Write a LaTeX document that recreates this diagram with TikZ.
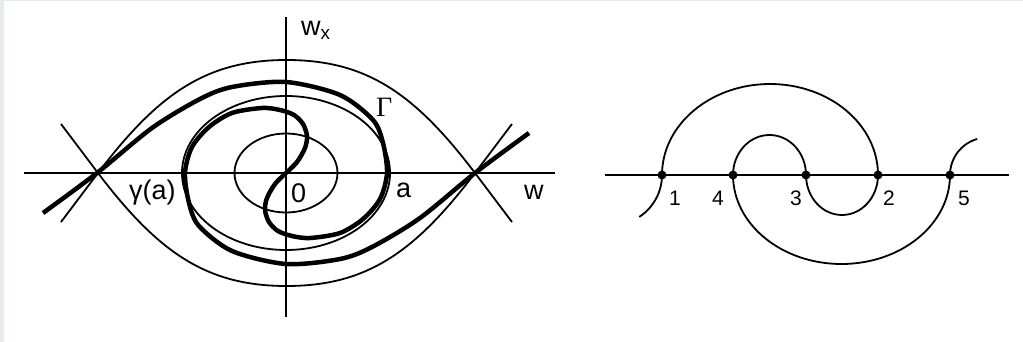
\documentclass[tikz,border=0pt]{standalone}
\usepackage{fontspec}
\setmainfont{Liberation Sans}
\newfontfamily\serifgreek{Liberation Serif}
\definecolor{framegray}{HTML}{E6EEEC}

\begin{document}
\begin{tikzpicture}[x=1pt, y=-1pt, line join=round,
    orbit/.style={line width=1.8pt},
    gammacurve/.style={line width=4.5pt},
    dot/.style={circle, fill, inner sep=0pt, minimum size=9pt},
    lbl/.style={inner sep=0pt, font=\fontsize{27}{30}\selectfont},
    num/.style={inner sep=0pt, font=\fontsize{21}{24}\selectfont}]

  % frame
  \fill[framegray] (0,0) rectangle (1023,342);
  \fill[white] (4,1) rectangle (1023,342);
  \useasboundingbox (0,0) rectangle (1023,342);

  % axes
  \draw[orbit] (24,173) -- (555,173);
  \draw[orbit] (286,17) -- (286,317);
  \node[lbl, anchor=base west] (wx) at (301,36) {w\textsubscript{x}};
  \node[lbl, anchor=base west] (w) at (524,200) {w};

  % separatrices through the two saddles
  \draw[orbit] (61,222) -- (98,173) .. controls (158,94) and (206,60) .. (286.5,60)
               .. controls (367,60) and (415,94) .. (475,173) -- (512,222);
  \draw[orbit] (61,124) -- (98,173) .. controls (158,252) and (206,286) .. (286.5,286)
               .. controls (367,286) and (415,252) .. (475,173) -- (512,124);

  % closed orbits
  \draw[orbit] (286,173) ellipse[x radius=104, y radius=77];
  \draw[orbit] (286,173) ellipse[x radius=51.5, y radius=39.5];

  % the curve Gamma, symmetric about 0
  \foreach \r in {0,180}
    \draw[gammacurve, rotate around={\r:(286,173)}] plot[smooth] coordinates {
      (286,173) (297,162) (305,148) (307,136) (303,124) (294,115) (280,110)
      (262,108) (232,113) (209,127) (192,147) (185,173) (189,203) (199,226)
      (232,251) (286,264) (340,259) (372,247) (420,218) (475,173) (529,133)};

  \node[lbl, anchor=base west] (zero) at (291,202) {0};
  \node[lbl, anchor=base west] (a) at (396,197) {a};
  \node[lbl, anchor=base west] (ga) at (129,200) {γ(a)};
  \node[inner sep=0pt, anchor=base west, font=\serifgreek\fontsize{28}{30}\selectfont]
    (Gam) at (376,117) {Γ};

  % right figure: line with the crossing points
  \draw[orbit] (605,175) -- (1009,175);
  \foreach \n/\x in {1/662,4/733,3/806,2/878,5/950}
    \node[dot] (p\n) at (\x,175) {};
  \foreach \n/\x in {1/675,4/718,3/796,2/889,5/964}
    \node[num] (l\n) at (\x,198) {\n};

  % arcs between the points
  \draw[orbit] (p1.center) arc[start angle=180, end angle=360, x radius=108, y radius=91];
  \draw[orbit] (p4.center) arc[start angle=180, end angle=360, x radius=36.5, y radius=40];
  \draw[orbit] (p3.center) arc[start angle=180, end angle=0, x radius=36, y radius=40];
  \draw[orbit] (p4.center) arc[start angle=180, end angle=0, x radius=108.5, y radius=89];
  \draw[orbit] (p1.center) arc[start angle=0, end angle=57, radius=50];
  \draw[orbit] (p5.center) arc[start angle=180, end angle=254, radius=37.5];
\end{tikzpicture}
\end{document}
